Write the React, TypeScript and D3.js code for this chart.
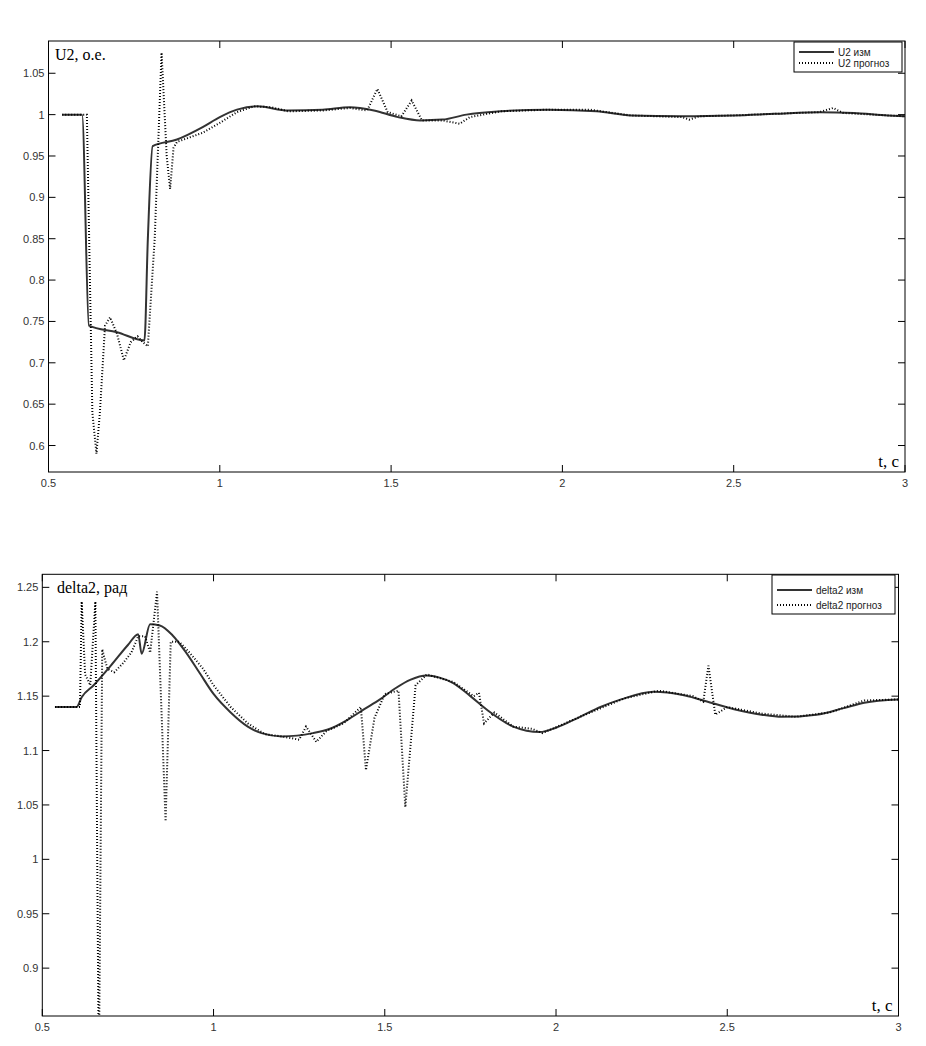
import React from "react";
import * as d3 from "d3";

// ---- Data ----
const u2Meas: [number, number][] = [
  [0.54, 1.0], [0.598, 1.0], [0.618, 0.745], [0.70, 0.737], [0.78, 0.727],
  [0.79, 0.85], [0.804, 0.962], [0.875, 0.97], [0.95, 0.985], [1.0, 0.997],
  [1.05, 1.006], [1.11, 1.01], [1.2, 1.005], [1.3, 1.006], [1.38, 1.009],
  [1.45, 1.005], [1.52, 0.997], [1.585, 0.993], [1.65, 0.994], [1.72, 1.0],
  [1.82, 1.004], [1.96, 1.006], [2.1, 1.004], [2.2, 0.999], [2.35, 0.998],
  [2.5, 0.999], [2.62, 1.001], [2.75, 1.003], [2.85, 1.002], [2.95, 0.999],
  [3.0, 0.998],
];
const u2Pred: [number, number][] = [
  [0.54, 1.0], [0.612, 1.0], [0.628, 0.64], [0.64, 0.59], [0.65, 0.64],
  [0.665, 0.745], [0.68, 0.755], [0.70, 0.735], [0.72, 0.703], [0.74, 0.725],
  [0.76, 0.732], [0.775, 0.725], [0.79, 0.72], [0.81, 0.85], [0.83, 1.075],
  [0.845, 0.95], [0.855, 0.91], [0.865, 0.96], [0.875, 0.967], [0.95, 0.978],
  [1.0, 0.99], [1.05, 1.003], [1.1, 1.01], [1.15, 1.009], [1.2, 1.004],
  [1.3, 1.005], [1.38, 1.008], [1.43, 1.005], [1.46, 1.031], [1.49, 1.003],
  [1.53, 0.998], [1.56, 1.017], [1.59, 0.993], [1.65, 0.993], [1.7, 0.989],
  [1.73, 0.997], [1.82, 1.004], [1.96, 1.006], [2.08, 1.006], [2.2, 0.999],
  [2.35, 0.997], [2.37, 0.994], [2.4, 0.998], [2.5, 0.999], [2.62, 1.001],
  [2.75, 1.003], [2.79, 1.008], [2.82, 1.002], [2.95, 0.999], [3.0, 0.998],
];
const deltaMeas: [number, number][] = [
  [0.537, 1.14], [0.60, 1.14], [0.615, 1.149], [0.65, 1.16], [0.70, 1.178],
  [0.75, 1.197], [0.78, 1.207], [0.79, 1.189], [0.815, 1.216], [0.843, 1.215],
  [0.88, 1.206], [0.92, 1.19], [0.96, 1.171], [1.0, 1.152], [1.05, 1.135],
  [1.1, 1.122], [1.14, 1.116], [1.2, 1.113], [1.29, 1.116], [1.34, 1.12],
  [1.39, 1.128], [1.44, 1.138], [1.486, 1.147], [1.53, 1.157], [1.574, 1.165],
  [1.623, 1.169], [1.66, 1.167], [1.7, 1.162], [1.75, 1.15], [1.8, 1.137],
  [1.875, 1.122], [1.953, 1.117], [2.0, 1.121], [2.07, 1.131], [2.13, 1.14],
  [2.19, 1.147], [2.285, 1.154], [2.37, 1.151], [2.42, 1.147], [2.52, 1.138],
  [2.6, 1.133], [2.66, 1.131], [2.76, 1.133], [2.84, 1.139], [2.9, 1.144],
  [3.0, 1.147],
];
const deltaPred: [number, number][] = [
  [0.537, 1.14], [0.61, 1.14], [0.615, 1.237], [0.625, 1.17], [0.64, 1.16],
  [0.655, 1.237], [0.665, 0.8], [0.675, 1.193], [0.69, 1.175], [0.71, 1.172],
  [0.735, 1.18], [0.76, 1.19], [0.78, 1.205], [0.80, 1.205], [0.815, 1.19],
  [0.835, 1.246], [0.86, 1.035], [0.875, 1.2], [0.9, 1.2], [0.93, 1.19],
  [0.97, 1.175], [1.0, 1.16], [1.05, 1.14], [1.1, 1.125], [1.15, 1.115],
  [1.2, 1.113], [1.25, 1.11], [1.27, 1.122], [1.3, 1.108], [1.33, 1.118],
  [1.38, 1.125], [1.43, 1.14], [1.445, 1.082], [1.47, 1.13], [1.5, 1.152],
  [1.54, 1.155], [1.56, 1.048], [1.59, 1.16], [1.623, 1.17], [1.7, 1.163],
  [1.76, 1.15], [1.775, 1.153], [1.79, 1.125], [1.82, 1.135], [1.875, 1.122],
  [1.93, 1.12], [1.96, 1.116], [2.07, 1.131], [2.2, 1.148], [2.3, 1.155],
  [2.4, 1.15], [2.43, 1.145], [2.445, 1.178], [2.465, 1.133], [2.5, 1.14],
  [2.6, 1.134], [2.7, 1.131], [2.8, 1.135], [2.9, 1.146], [3.0, 1.147],
];

const xTicks = [0.5, 1, 1.5, 2, 2.5, 3];
const u2Ticks = [0.6, 0.65, 0.7, 0.75, 0.8, 0.85, 0.9, 0.95, 1, 1.05];
const deltaTicks = [0.9, 0.95, 1, 1.05, 1.1, 1.15, 1.2, 1.25];
const u2Labels = ["U2 изм", "U2 прогноз"];
const deltaLabels = ["delta2 изм", "delta2 прогноз"];

type PanelProps = {
  id: string;
  left: number; right: number; top: number; bottom: number;
  yDomain: [number, number];
  yTicks: number[];
  meas: [number, number][];
  pred: [number, number][];
  title: string;
  titleX: number;
  labels: string[];
  legend: { x: number; y: number; w: number; h: number; row1: number; row2: number };
};

const fmt = (v: number) => String(+v.toFixed(2));

function Panel(p: PanelProps) {
  const x = d3.scaleLinear().domain([0.5, 3]).range([p.left, p.right]);
  const y = d3.scaleLinear().domain(p.yDomain).range([p.bottom, p.top]);
  const line = d3.line<[number, number]>().x((d) => x(d[0])).y((d) => y(d[1])).curve(d3.curveMonotoneX);
  const lineLin = d3.line<[number, number]>().x((d) => x(d[0])).y((d) => y(d[1]));
  const tk = 7;
  const sans = "'Liberation Sans', Arial, sans-serif";
  const serif = "'Liberation Serif', 'Times New Roman', serif";
  const L = p.legend;
  return (
    <g>
      <defs>
        <clipPath id={p.id}>
          <rect x={p.left} y={p.top} width={p.right - p.left} height={p.bottom - p.top} />
        </clipPath>
      </defs>
      <rect x={p.left} y={p.top} width={p.right - p.left} height={p.bottom - p.top} fill="#fff" />
      <g clipPath={`url(#${p.id})`}>
        <path d={line(p.meas) || ""} fill="none" stroke="#333" strokeWidth={2} />
        <path d={lineLin(p.pred) || ""} fill="none" stroke="#000" strokeWidth={2} strokeDasharray="1,2" />
      </g>
      <rect x={p.left} y={p.top} width={p.right - p.left} height={p.bottom - p.top} fill="none" stroke="#000" strokeWidth={1} />
      {xTicks.map((t) => (
        <g key={"x" + t}>
          <line x1={x(t)} x2={x(t)} y1={p.bottom} y2={p.bottom - tk} stroke="#000" />
          <line x1={x(t)} x2={x(t)} y1={p.top} y2={p.top + tk} stroke="#000" />
          <text x={x(t)} y={p.bottom + 15} textAnchor="middle" fontFamily={sans} fontSize={11} fill="#333">
            {fmt(t)}
          </text>
        </g>
      ))}
      {p.yTicks.map((t) => (
        <g key={"y" + t}>
          <line x1={p.left} x2={p.left + tk} y1={y(t)} y2={y(t)} stroke="#000" />
          <line x1={p.right} x2={p.right - tk} y1={y(t)} y2={y(t)} stroke="#000" />
          <text x={p.left - 4} y={y(t) + 4} textAnchor="end" fontFamily={sans} fontSize={11} fill="#333">
            {fmt(t)}
          </text>
        </g>
      ))}
      <text x={p.titleX} y={p.top + 19} fontFamily={serif} fontSize={16} fill="#000">{p.title}</text>
      <text x={p.right - 6} y={p.bottom - 5} textAnchor="end" fontFamily={serif} fontSize={17} fill="#000">t, с</text>
      <rect x={L.x} y={L.y} width={L.w} height={L.h} fill="#fff" stroke="#000" strokeWidth={1} />
      <line x1={L.x + 5} x2={L.x + 40} y1={L.row1} y2={L.row1} stroke="#333" strokeWidth={2} />
      <line x1={L.x + 5} x2={L.x + 40} y1={L.row2} y2={L.row2} stroke="#000" strokeWidth={2} strokeDasharray="1,2" />
      <text x={L.x + 44} y={L.row1 + 3.5} fontFamily={sans} fontSize={10} fill="#222">{p.labels[0]}</text>
      <text x={L.x + 44} y={L.row2 + 3.5} fontFamily={sans} fontSize={10} fill="#222">{p.labels[1]}</text>
    </g>
  );
}

export default function App() {
  return (
    <svg width={926} height={1046} style={{ position: "absolute", left: 0, top: 0, background: "#fff" }}>
      <rect x={0} y={0} width={926} height={1046} fill="#fff" />
      <Panel
        id="clipTop"
        left={48.5} right={905} top={41} bottom={472}
        yDomain={[0.568, 1.089]}
        yTicks={u2Ticks}
        meas={u2Meas}
        pred={u2Pred}
        title="U2, о.е."
        titleX={55}
        labels={u2Labels}
        legend={{ x: 794, y: 42, w: 108, h: 30, row1: 52, row2: 63 }}
      />
      <Panel
        id="clipBottom"
        left={42.3} right={898.5} top={574.3} bottom={1016}
        yDomain={[0.856, 1.262]}
        yTicks={deltaTicks}
        meas={deltaMeas}
        pred={deltaPred}
        title="delta2, рад"
        titleX={57}
        labels={deltaLabels}
        legend={{ x: 772, y: 575, w: 123, h: 39, row1: 590, row2: 605 }}
      />
    </svg>
  );
}
